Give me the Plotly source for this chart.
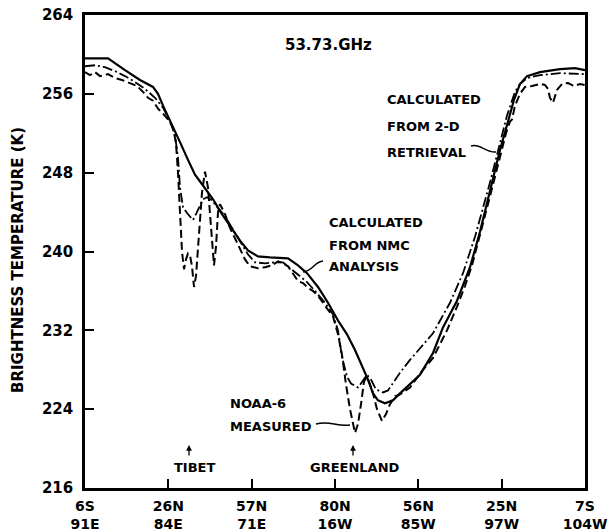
import plotly.graph_objects as go

# x positions are in units of the tick index (0 = 6S/91E ... 6 = 7S/104W)
tick_vals = [0, 1, 2, 3, 4, 5, 6]
tick_lat = ["6S", "26N", "57N", "80N", "56N", "25N", "7S"]
tick_lon = ["91E", "84E", "71E", "16W", "85W", "97W", "104W"]
y_ticks = [216, 224, 232, 240, 248, 256, 264]

PX0, PXW = 85.0, 83.333
def px(v):
    return [(p - PX0) / PXW for p in v]

# Calculated from NMC analysis (solid)
nmc_px = [85, 108, 125, 140, 153, 158, 163, 170, 180, 188, 195, 203, 213, 222, 230, 240, 248, 258,
          270, 288, 298, 307, 318, 328, 338, 347, 355, 360, 364, 368, 373, 378, 385, 393, 400, 410,
          420, 433, 443, 457, 470, 480, 490, 500, 508, 514, 520, 527, 540, 560, 575, 585]
nmc_t = [259.6, 259.6, 258.4, 257.4, 256.7, 256.0, 254.8, 253.2, 251.1, 249.3, 247.8, 246.7, 245.3,
         243.8, 242.6, 241.1, 240.1, 239.5, 239.4, 239.3, 238.6, 237.8, 236.4, 234.8, 233.0, 231.6,
         230.0, 228.9, 228.0, 227.0, 225.6, 224.9, 224.6, 224.9, 225.6, 226.5, 227.5, 229.7, 232.3,
         235.0, 238.4, 242.0, 246.2, 250.3, 253.2, 255.4, 257.0, 257.8, 258.2, 258.5, 258.6, 258.4]

# NOAA-6 measured (dashed)
meas_px = [85, 90, 95, 100, 108, 115, 122, 130, 137, 143, 148, 153, 158, 163, 168, 173, 176, 178,
           180, 182, 184, 186, 188, 190, 192, 194, 196, 199, 202, 205, 208, 211, 214, 216, 218, 220,
           225, 230, 235, 240, 245, 250, 258, 265, 272, 278, 283, 288, 293, 298, 303, 308, 313, 318,
           325, 333, 338, 342, 346, 350, 355, 358, 361, 364, 367, 372, 377, 382, 386, 390, 395, 400,
           410, 423, 433, 447, 457, 465, 472, 480, 490, 500, 506, 510, 512, 515, 520, 525, 532, 540,
           545, 548, 550, 553, 557, 562, 568, 574, 580, 585]
meas_t = [258.2, 257.9, 258.2, 257.8, 258.0, 257.6, 257.4, 257.1, 256.8, 256.2, 255.6, 255.3, 254.5,
          254.0, 253.4, 252.6, 251.0, 248.0, 244.0, 240.0, 238.2, 239.2, 239.8, 239.6, 238.5, 236.4,
          237.5, 241.5, 246.0, 248.1, 246.5, 242.5, 238.6, 240.5, 244.0, 244.8, 243.8, 242.4, 241.3,
          240.2, 239.2, 238.5, 238.3, 238.4, 238.6, 239.0, 238.8, 238.5, 237.8, 237.0, 236.8, 236.3,
          236.0, 235.5, 234.5, 233.4, 231.6, 229.5, 226.5, 224.0, 221.6, 222.5, 224.5, 226.8, 227.3,
          226.0, 224.0, 222.8, 223.5, 224.5, 225.3, 225.5, 226.2, 228.0, 229.2, 232.0, 234.4, 236.5,
          238.6, 241.6, 245.6, 249.6, 252.0, 253.2, 253.4, 254.8, 256.0, 256.7, 256.8, 257.0, 256.9,
          256.5, 255.6, 255.1, 256.4, 257.0, 257.1, 256.8, 257.0, 256.9]

# Calculated from 2-D retrieval (dash-dot)
ret_px = [85, 95, 105, 115, 125, 135, 145, 155, 163, 170, 175, 178, 180, 183, 187, 190, 193, 196,
          199, 203, 207, 212, 218, 225, 232, 240, 248, 255, 265, 275, 283, 290, 298, 306, 315, 325,
          333, 338, 342, 347, 351, 358, 363, 367, 371, 376, 383, 388, 400, 410, 433, 450, 463, 475,
          490, 500, 507, 515, 520, 527, 540, 560, 585]
ret_t = [258.8, 258.9, 258.7, 258.3, 257.8, 257.2, 256.5, 255.6, 254.6, 253.2, 251.8, 249.5, 246.5,
         244.5, 243.9, 243.6, 243.2, 243.8, 244.5, 245.3, 245.5, 245.2, 244.4, 243.6, 242.4, 241.0,
         239.7, 238.9, 238.8, 238.9, 238.9, 238.3, 237.6, 237.0, 236.0, 234.8, 233.6, 232.0, 229.3,
         227.3, 226.6, 226.2, 226.9, 227.5, 227.0, 226.0, 225.7, 225.9, 227.7, 229.0, 231.7, 234.8,
         237.8, 241.5, 247.0, 251.0, 253.8, 256.2, 257.0, 257.6, 257.9, 258.1, 258.0]

FONT = "DejaVu Sans"
fig = go.Figure()
fig.add_trace(go.Scatter(x=px(nmc_px), y=nmc_t, mode="lines",
                         line=dict(color="black", width=2.2), name="NMC", showlegend=False))
fig.add_trace(go.Scatter(x=px(meas_px), y=meas_t, mode="lines",
                         line=dict(color="black", width=2, dash="8px,4px"), name="NOAA-6", showlegend=False))
fig.add_trace(go.Scatter(x=px(ret_px), y=ret_t, mode="lines",
                         line=dict(color="black", width=1.8, dash="10px,3px,2px,3px"), name="2-D", showlegend=False))

def ypx(p):
    return 264 - (p - 15) / 9.854

def xpx(p):
    return (p - PX0) / PXW

ann = []
def txt(s, xp, yp, size=13, anchor="left"):
    ann.append(dict(text=s, x=xpx(xp), y=ypx(yp), xref="x", yref="y", showarrow=False,
                    xanchor=anchor, yanchor="middle",
                    font=dict(family=FONT, size=size, color="black", weight="bold")))

txt("53.73.GHz", 328, 45, size=15, anchor="center")
txt("CALCULATED", 385, 99)
txt("FROM 2-D", 385, 126)
txt("RETRIEVAL", 385, 152)
txt("CALCULATED", 327, 222)
txt("FROM NMC", 327, 245)
txt("ANALYSIS", 327, 266)
txt("NOAA-6", 228, 403)
txt("MEASURED", 228, 426)
txt("TIBET", 194, 467, anchor="center")
txt("GREENLAND", 355, 467, anchor="center")

for xp in (189, 353):
    ann.append(dict(text="", x=xpx(xp), y=ypx(445), ax=xpx(xp), ay=ypx(457), xref="x", yref="y",
                    axref="x", ayref="y", showarrow=True, arrowhead=2, arrowsize=0.9,
                    arrowwidth=1.3, arrowcolor="black"))

ann.append(dict(text="BRIGHTNESS TEMPERATURE (K)", x=(18 - 85) / 500, y=(488 - 260) / 473,
                xref="paper", yref="paper", showarrow=False, textangle=-90,
                xanchor="center", yanchor="middle",
                font=dict(family=FONT, size=15, color="black", weight="bold")))

def leader(pts):
    (x0, y0), (x1, y1), (x2, y2), (x3, y3) = [(xpx(a), ypx(b)) for a, b in pts]
    return dict(type="path", xref="x", yref="y",
                path=f"M {x0},{y0} C {x1},{y1} {x2},{y2} {x3},{y3}",
                line=dict(color="black", width=1.4))

shapes = [
    leader([(471, 146), (480, 143), (486, 153), (496, 152)]),
    leader([(323, 261), (314, 262), (314, 270), (303, 272)]),
    leader([(316, 424), (330, 420), (336, 427), (350, 425)]),
]

fig.update_layout(
    width=614, height=532,
    margin=dict(l=85, r=29, t=15, b=44, autoexpand=False),
    paper_bgcolor="white", plot_bgcolor="white",
    annotations=ann, shapes=shapes,
    font=dict(family=FONT, size=14, color="black", weight="bold"),
)
fig.update_xaxes(range=[0, 6], tickvals=tick_vals,
                 ticktext=[f"{a}<br>{b}" for a, b in zip(tick_lat, tick_lon)],
                 ticks="inside", ticklen=9, tickwidth=2, tickcolor="black",
                 showline=True, linecolor="black", linewidth=2.5, mirror=True,
                 showgrid=False, zeroline=False, ticklabelstandoff=3, automargin=False,
                 tickfont=dict(family=FONT, size=14, color="black", weight="bold"))
fig.update_yaxes(range=[216, 264], tickvals=y_ticks,
                 ticks="inside", ticklen=9, tickwidth=2, tickcolor="black",
                 showline=True, linecolor="black", linewidth=2.5, mirror=True,
                 showgrid=False, zeroline=False, ticklabelstandoff=6, automargin=False,
                 tickfont=dict(family=FONT, size=15, color="black", weight="bold"))

fig.write_html("out.html")
